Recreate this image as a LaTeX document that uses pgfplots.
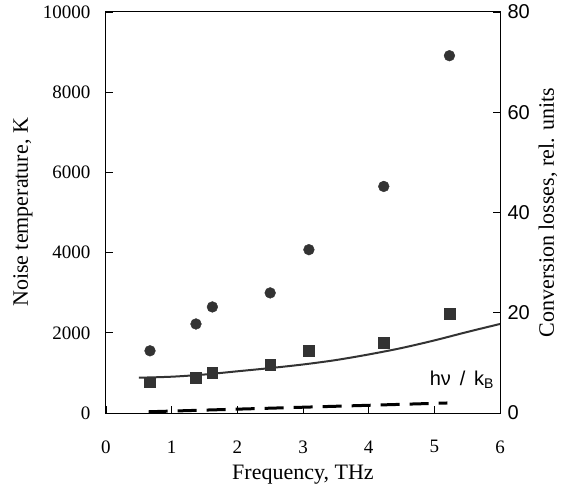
\documentclass[border=0pt]{standalone}
\usepackage{pgfplots}
\pgfplotsset{compat=1.18}
\usepackage{fontspec}
\setmainfont{Liberation Serif}
\newfontfamily\arial{Liberation Sans}
\definecolor{mk}{HTML}{333333}
\begin{document}
\begin{tikzpicture}
\begin{axis}[
  name=main,
  scale only axis, width=394pt, height=401pt,
  xmin=0, xmax=6, ymin=0, ymax=10000,
  xtick={0,1,2,3,4,5,6}, ytick={0,2000,4000,6000,8000,10000},
  scaled ticks=false,
  xtick pos=bottom, ytick pos=left,
  tick align=inside, major tick length=7pt,
  axis line style={line width=1pt}, tick style={line width=0.8pt, black},
  /pgf/number format/assume math mode=true,
  /pgf/number format/1000 sep={},
  tick label style={font=\fontsize{19}{22}\selectfont},
  xticklabel style={yshift=-24pt},
  yticklabel style={xshift=-12pt},
  label style={font=\fontsize{22}{26}\selectfont},
  xlabel={Frequency, THz},
  ylabel={Noise temperature, K},
  xlabel style={at={([yshift=-62pt]axis description cs:0.5,0)}, anchor=center},
  ylabel style={at={([xshift=-83pt]axis description cs:0,0.5)}, anchor=center},
  clip=false,
]
\addplot[only marks, mark=*, mark size=5.4pt, mark options={fill=mk, draw=mk}] coordinates {
  (0.67,1551) (1.37,2220) (1.62,2645) (2.50,2995) (3.09,4073) (4.23,5650) (5.23,8910)
};
\addplot[black, line width=3pt, dash pattern=on 19pt off 10pt] coordinates {
  (0.65,31) (5.2,250)
};
\node[font=\arial\fontsize{20}{24}\selectfont] at (axis cs:5.42,823) {hν\,\ /\ \,k\textsubscript{B}};
\end{axis}
\begin{axis}[
  scale only axis, width=394pt, height=401pt,
  xmin=0, xmax=6, ymin=0, ymax=80,
  axis x line=none, axis y line*=right,
  ytick={0,20,40,60,80},
  tick align=inside, major tick length=7pt,
  axis line style={line width=1pt}, tick style={line width=0.8pt, black},
  /pgf/number format/assume math mode=true,
  yticklabel style={font=\arial\fontsize{20}{24}\selectfont, xshift=4pt},
  ylabel={Conversion losses, rel. units},
  ylabel style={font=\fontsize{22}{26}\selectfont, at={([xshift=48pt]axis description cs:1,0.5)}, anchor=center},
  clip=false,
]
\addplot[only marks, mark=square*, mark size=5.3pt, mark options={fill=mk, draw=mk}] coordinates {
  (0.67,6.13) (1.37,7.05) (1.62,8.05) (2.50,9.58) (3.09,12.4) (4.23,14.06) (5.23,19.84)
};
\addplot[color=mk, line width=2pt, smooth] coordinates {
  (0.5,7.04) (1,7.24) (1.5,7.68) (2,8.32) (2.5,8.96) (3,9.68) (3.5,10.56) (4,11.68) (4.5,12.96) (5,14.48) (5.5,16.16) (6,17.76)
};
\end{axis}
\pgfresetboundingbox
\path ([shift={(-106pt,-87pt)}]main.south west) rectangle ([shift={(67pt,12pt)}]main.north east);
\end{tikzpicture}
\end{document}
